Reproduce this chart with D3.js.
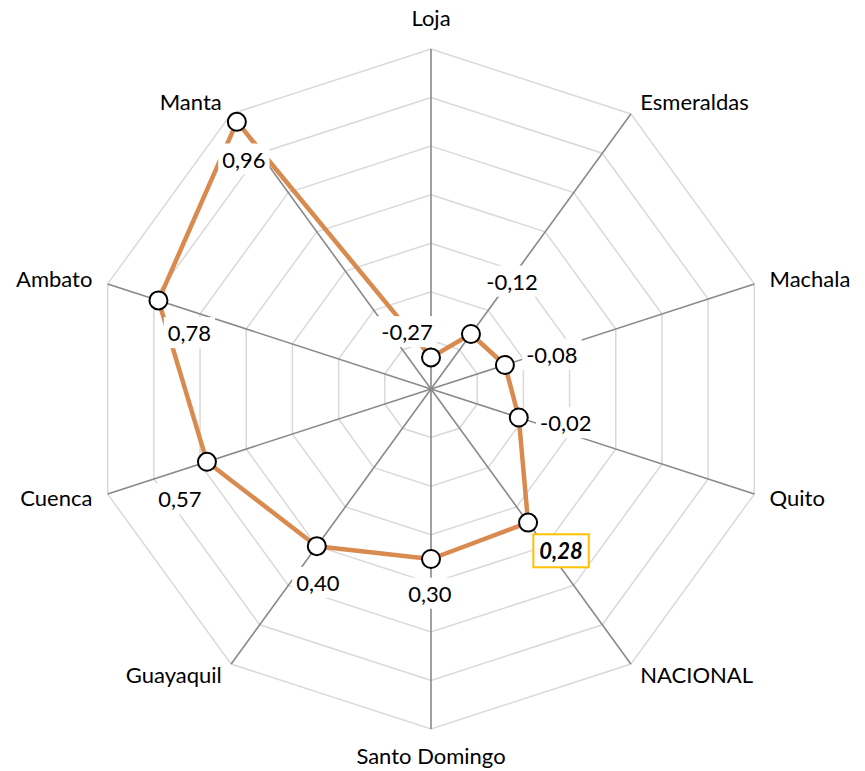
<!DOCTYPE html>
<html>
  <head>
    <meta charset="utf-8">
    <title>Radar</title>
    <script src="https://cdn.jsdelivr.net/npm/d3@7"></script>
    <style>
      body { margin: 0; background: #fff; }
      text { font-family: Lato, "Liberation Sans", sans-serif; fill: #000; }
    </style>
  </head>
  <body>
    <svg width="865" height="771" id="mainsvg"></svg>
    <script>
        // datos
        const categories = ['Loja', 'Esmeraldas', 'Machala', 'Quito', 'NACIONAL',
          'Santo Domingo', 'Guayaquil', 'Cuenca', 'Ambato', 'Manta'];
        const values = [-0.27, -0.12, -0.08, -0.02, 0.28, 0.30, 0.40, 0.57, 0.78, 0.96];
        const labelTexts = ['-0,27', '-0,12', '-0,08', '-0,02', '0,28', '0,30', '0,40', '0,57', '0,78', '0,96'];
        const axisDomain = [-0.4, 1.0];
        // where each data label sits relative to its point (moved by hand in the original)
        const labelOffsets = [[-24, -25], [41, -52], [47, -10], [47, 6], [33, 29],
          [-1, 35], [1, 37], [-27, 38], [31, 33], [7, 38]];
        const highlight = 'NACIONAL';

        const svg = d3.select('#mainsvg');
        const cx = 431, cy = 389, R = 340;
        const fontSize = 22;

        const g = svg.append('g').attr('transform', `translate(${cx}, ${cy})`);

        const rScale = d3.scaleLinear().domain(axisDomain).range([0, R]);
        const aScale = d3.scaleBand().domain(categories).range([0, 2 * Math.PI]).padding(0);
        const ang = c => aScale(c);

        // anillos
        const ring = d3.lineRadial().angle(d => ang(d)).curve(d3.curveLinearClosed);
        rScale.ticks(7).slice(1).forEach(t => {
          g.append('path')
            .attr('d', ring.radius(() => rScale(t))(categories))
            .attr('fill', 'none')
            .attr('stroke', '#d9d9d9')
            .attr('stroke-width', 1.5);
        });

        // ejes
        categories.forEach(c => {
          const a = ang(c);
          g.append('line')
            .attr('x1', 0).attr('y1', 0)
            .attr('x2', Math.sin(a) * R).attr('y2', -Math.cos(a) * R)
            .attr('stroke', '#898989')
            .attr('stroke-width', 1.6);
        });

        // etiquetas de categoria
        categories.forEach(c => {
          const a = ang(c);
          const s = Math.sin(a), co = Math.cos(a);
          let x = s * R, y = -co * R, anchor;
          if (Math.abs(s) < 0.01) {
            anchor = 'middle';
            y += co > 0 ? -31 : 27;
          } else {
            anchor = s > 0 ? 'start' : 'end';
            x += s * 16;
            y += -co * 14;
          }
          g.append('text').text(c)
            .attr('x', x).attr('y', y).attr('dy', '0.35em')
            .attr('text-anchor', anchor)
            .attr('font-size', fontSize);
        });

        // serie
        const data = categories.map((c, i) => ({cat: c, value: values[i], label: labelTexts[i], off: labelOffsets[i]}));
        const line = d3.lineRadial()
          .angle(d => ang(d.cat))
          .radius(d => rScale(d.value))
          .curve(d3.curveLinearClosed);

        g.append('path')
          .attr('d', line(data))
          .attr('fill', 'none')
          .attr('stroke', '#d98a4f')
          .attr('stroke-width', 4.5)
          .attr('stroke-linejoin', 'round');

        const px = d => Math.sin(ang(d.cat)) * rScale(d.value);
        const py = d => -Math.cos(ang(d.cat)) * rScale(d.value);

        g.selectAll('circle.pt').data(data).join('circle')
          .attr('class', 'pt')
          .attr('cx', px).attr('cy', py)
          .attr('r', 9)
          .attr('fill', '#fff')
          .attr('stroke', '#000')
          .attr('stroke-width', 2);

        // etiquetas de datos
        data.forEach(d => {
          const lx = px(d) + d.off[0], ly = py(d) + d.off[1];
          const lg = g.append('g');
          const isHi = d.cat === highlight;
          const t = lg.append('text').text(d.label)
            .attr('x', lx).attr('y', ly).attr('dy', '0.35em')
            .attr('text-anchor', 'middle')
            .attr('font-size', fontSize)
            .attr('font-weight', isHi ? 'bold' : 'normal')
            .attr('font-style', isHi ? 'italic' : 'normal');
          const bb = t.node().getBBox();
          const padX = isHi ? 6 : 4, padY = isHi ? 3 : 2;
          lg.insert('rect', 'text')
            .attr('x', bb.x - padX).attr('y', bb.y - padY)
            .attr('width', bb.width + 2 * padX).attr('height', bb.height + 2 * padY)
            .attr('fill', '#fff')
            .attr('stroke', isHi ? '#ffc000' : 'none')
            .attr('stroke-width', 2);
        });
    </script>
  </body>
</html>
